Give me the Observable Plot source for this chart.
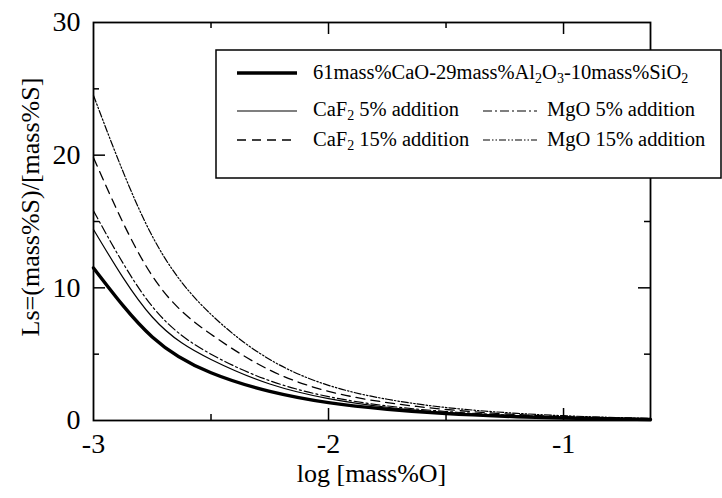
<!DOCTYPE html>
<html><head><meta charset="utf-8">
<script src="https://cdn.jsdelivr.net/npm/d3@7"></script>
<script src="https://cdn.jsdelivr.net/npm/@observablehq/plot@0.6"></script>
<style>body{margin:0;background:#fff} svg{display:block} #chart text{font-family:"Liberation Serif","Times New Roman",serif !important}</style>
</head><body><div id="chart"></div>
<script>
// ---- data ----
const logO   = [-3, -2.75, -2.5, -2.25, -2, -1.75, -1.5, -1.25, -1, -0.75, -0.63];
const base   = [11.5, 6.3, 3.6, 2.2, 1.35, 0.85, 0.52, 0.32, 0.19, 0.11, 0.08];
const caf5   = [14.4, 7.8, 4.6, 2.75, 1.65, 1.0, 0.62, 0.38, 0.23, 0.13, 0.10];
const mgo5   = [15.8, 8.6, 5.0, 3.0, 1.8, 1.1, 0.68, 0.42, 0.25, 0.15, 0.11];
const caf15  = [19.8, 10.9, 6.5, 3.8, 2.2, 1.35, 0.83, 0.5, 0.3, 0.18, 0.13];
const mgo15  = [24.5, 13.9, 8.0, 4.6, 2.65, 1.6, 0.98, 0.6, 0.36, 0.21, 0.16];
const xTickLabels = [-3, -2, -1];
const yTickLabels = [0, 10, 20, 30];
const xMajor = [-2, -1], xMinor = [-2.5, -1.5];
const yMajor = [10, 20], yMinor = [5, 15, 25];
const xLabel = "log [mass%O]";
const yLabel = "Ls=(mass%S)/[mass%S]";

// ---- styles ----
const series = [
  {values: base,  width: 3.4, dash: null},
  {values: caf5,  width: 1.2, dash: null},
  {values: mgo5,  width: 1.2, dash: "9,3,2,3"},
  {values: caf15, width: 1.3, dash: "9,6"},
  {values: mgo15, width: 1.2, dash: "7,2,1.5,2,1.5,2"}
];

const W = 722, H = 498, mL = 93, mR = 72, mT = 22, mB = 78;
const fw = W - mL - mR, fh = H - mT - mB;
const font = "Liberation Serif, Times New Roman, serif";
const fmt = d => String(d);

const marks = [];
series.forEach(s => {
  marks.push(Plot.line(logO.map((x, i) => ({x, y: s.values[i]})), {
    x: "x", y: "y", curve: "natural", stroke: "black",
    strokeWidth: s.width, strokeDasharray: s.dash
  }));
});
marks.push(
  Plot.tickY(yMajor, {y: d => d, insetRight: fw - 12, strokeWidth: 1.5}),
  Plot.tickY(yMinor, {y: d => d, insetRight: fw - 6, strokeWidth: 1.5}),
  Plot.tickY(yMajor, {y: d => d, insetLeft: fw - 12, strokeWidth: 1.5}),
  Plot.tickY(yMinor, {y: d => d, insetLeft: fw - 6, strokeWidth: 1.5}),
  Plot.tickX(xMajor, {x: d => d, insetTop: fh - 12, strokeWidth: 1.5}),
  Plot.tickX(xMinor, {x: d => d, insetTop: fh - 6, strokeWidth: 1.5}),
  Plot.tickX(xMajor, {x: d => d, insetBottom: fh - 12, strokeWidth: 1.5}),
  Plot.tickX(xMinor, {x: d => d, insetBottom: fh - 6, strokeWidth: 1.5}),
  Plot.frame({strokeWidth: 1.8}),
  Plot.axisX(xTickLabels, {tickSize: 0, tickPadding: 13, tickFormat: fmt, fontSize: 28, label: null}),
  Plot.axisY(yTickLabels, {tickSize: 0, tickPadding: 13, tickFormat: fmt, fontSize: 28, label: null})
);

const plot = Plot.plot({
  width: W, height: H, marginLeft: mL, marginRight: mR, marginTop: mT, marginBottom: mB,
  style: {fontFamily: font, background: "white", color: "black", overflow: "visible"},
  x: {domain: [-3, -0.63]},
  y: {domain: [0, 30]},
  marks
});
document.getElementById("chart").appendChild(plot);

// ---- axis titles and legend ----
const svg = d3.select(plot);
svg.append("text").attr("x", mL + fw / 2).attr("y", 482).attr("text-anchor", "middle")
  .attr("font-family", font).attr("font-size", 26).attr("fill", "black").text(xLabel);
svg.append("text").attr("transform", "translate(39,207) rotate(-90)").attr("text-anchor", "middle")
  .attr("font-family", font).attr("font-size", 26).attr("fill", "black").text(yLabel);

const lg = svg.append("g").attr("font-family", font).attr("font-size", 20.5)
  .attr("fill", "black").attr("text-anchor", "start");
lg.append("rect").attr("x", 216).attr("y", 50).attr("width", 505).attr("height", 128)
  .attr("fill", "white").attr("stroke", "black").attr("stroke-width", 1.5);

function legLine(g, x1, x2, y, s) {
  g.append("line").attr("x1", x1).attr("x2", x2).attr("y1", y).attr("y2", y)
    .attr("stroke", "black").attr("stroke-width", s.width)
    .attr("stroke-dasharray", s.dash);
}
function richText(g, x, y, parts) {
  const t = g.append("text").attr("x", x).attr("y", y).attr("text-anchor", "start")
    .attr("font-family", font).attr("font-size", 20.5);
  let shifted = false;
  parts.forEach(p => {
    if (typeof p === "string") {
      const ts = t.append("tspan").text(p);
      if (shifted) { ts.attr("dy", -4); shifted = false; }
    } else {
      t.append("tspan").attr("font-size", 14).attr("dy", shifted ? 0 : 4).text(p.sub);
      shifted = true;
    }
  });
}
legLine(lg, 237, 297, 73, series[0]);
richText(lg, 313, 79, ["61mass%CaO-29mass%Al", {sub: "2"}, "O", {sub: "3"}, "-10mass%SiO", {sub: "2"}]);
legLine(lg, 237, 297, 111, series[1]);
richText(lg, 313, 116, ["CaF", {sub: "2"}, " 5% addition"]);
legLine(lg, 483, 537, 111, series[2]);
richText(lg, 547, 116, ["MgO 5% addition"]);
legLine(lg, 237, 297, 140, series[3]);
richText(lg, 313, 146, ["CaF", {sub: "2"}, " 15% addition"]);
legLine(lg, 483, 537, 140, series[4]);
richText(lg, 547, 146, ["MgO 15% addition"]);
</script>
</body></html>
